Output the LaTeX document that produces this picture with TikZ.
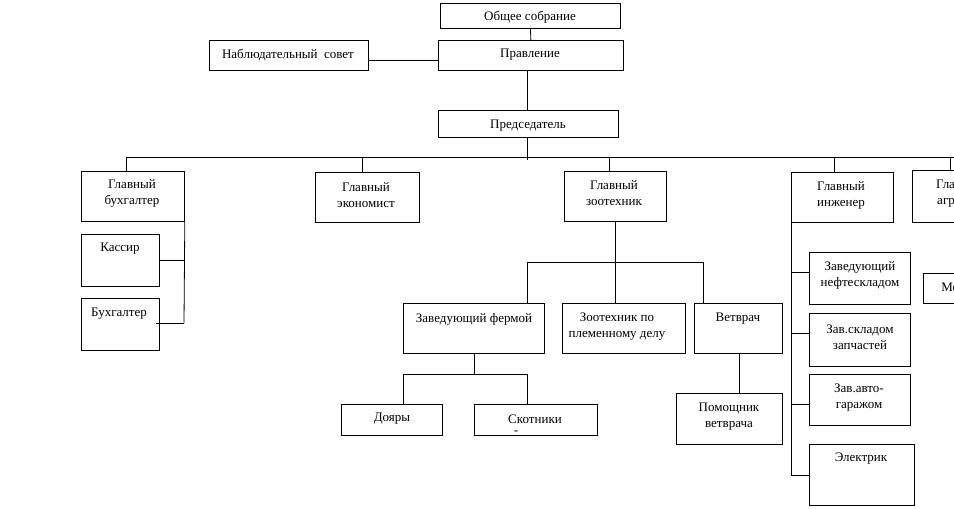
\documentclass[tikz,border=0pt]{standalone}
\usepackage{fontspec}
\setmainfont{Liberation Serif}
\begin{document}
\begin{tikzpicture}[x=1pt,y=-1pt,
  bx/.style={draw,line width=0.8pt,inner sep=0},
  tx/.style={font=\fontsize{13}{16}\selectfont,align=center,inner sep=0},
  ln/.style={line width=0.8pt}]
\useasboundingbox (0,0) rectangle (954,509);
\clip (0,0) rectangle (954,509);
\newcommand\bxx[5]{\node[bx,anchor=north west,minimum width=#4-#2,minimum height=#5-#3] (#1) at (#2,#3) {};}
\bxx{os}{440}{3}{620}{28}
\bxx{pr}{438}{40}{623}{70}
\bxx{ns}{209}{40}{368}{70}
\bxx{pd}{438}{110}{618}{137}
\bxx{gb}{81}{171}{184}{221}
\bxx{ge}{315}{172}{419}{222}
\bxx{gz}{564}{171}{666}{221}
\bxx{gi}{791}{172}{893}{222}
\bxx{ga}{912}{170}{975}{222}
\bxx{ka}{81}{234}{159}{286}
\bxx{bu}{81}{298}{159}{350}
\bxx{zf}{403}{303}{544}{353}
\bxx{zp}{562}{303}{685}{353}
\bxx{vv}{694}{303}{782}{353}
\bxx{do}{341}{404}{442}{435}
\bxx{sk}{474}{404}{597}{435}
\bxx{pv}{676}{393}{782}{444}
\bxx{zn}{809}{252}{910}{304}
\bxx{zs}{809}{313}{910}{366}
\bxx{zg}{809}{374}{910}{425}
\bxx{el}{809}{444}{914}{505}
\bxx{me}{923}{273}{975}{303}
% texts
\node[tx] (t1) at (530,17) {Общее собрание};
\node[tx] (t2) at (530,55) {Правление};
\node[tx] (t3) at (288,55) {Наблюдательный\ \ совет};
\node[tx] (t4) at (528,126) {Председатель};
\node[tx] (t5) at (132,193) {Главный\\бухгалтер};
\node[tx] (t6) at (366,195) {Главный\\экономист};
\node[tx] (t7) at (614,193) {Главный\\зоотехник};
\node[tx] (t8) at (841,195) {Главный\\инженер};
\node[tx] (t9) at (960,193) {Главный\\агроном};
\node[tx] (t10) at (120,249) {Кассир};
\node[tx] (t11) at (119,314) {Бухгалтер};
\node[tx] (t12) at (860,275) {Заведующий\\нефтескладом};
\node[tx] (t13) at (860,337) {Зав.складом\\запчастей};
\node[tx] (t14) at (859,398) {Зав.авто-\\гаражом};
\node[tx] (t15) at (861,459) {Электрик};
\node[tx] (t16) at (474,319) {Заведующий фермой};
\node[tx] (t17) at (617,327) {Зоотехник по\\племенному делу};
\node[tx] (t18) at (738,319) {Ветврач};
\node[tx] (t19) at (392,419) {Дояры};
\node[tx] (t20) at (535,419) {Скотники};
\node[tx] (t21) at (516,433) {-};
\node[tx] (t22) at (729,417) {Помощник\\ветврача};
\node[tx] (t23) at (966,287) {Механик};
% connectors
\draw[ln] (os.south) -- (pr.north);
\draw[ln] (ns.east|-0,60) -- (pr.west|-0,60);
\draw[ln] (pr.south -| 527,0) -- (pd.north -| 527,0);
\draw[ln] (pd.south -| 527,0) -- (527,160);
\draw[ln] (126,157) -- (960,157);
\draw[ln] (126,157) -- (gb.north -| 126,0);
\draw[ln] (362,157) -- (ge.north -| 362,0);
\draw[ln] (609,157) -- (gz.north -| 609,0);
\draw[ln] (834,157) -- (gi.north -| 834,0);
\draw[ln] (950,157) -- (ga.north -| 950,0);
\draw[ln] (gb.south east) -- (184,323);
\draw[ln] (ka.east|-0,260) -- (184,260);
\draw[ln] (156,323) -- (184,323);
\draw[ln] (gz.south -| 615,0) -- (615,262);
\draw[ln] (527,262) -- (703,262);
\draw[ln] (527,262) -- (zf.north -| 527,0);
\draw[ln] (615,262) -- (zp.north -| 615,0);
\draw[ln] (703,262) -- (vv.north -| 703,0);
\draw[ln] (zf.south -| 474,0) -- (474,374);
\draw[ln] (403,374) -- (527,374);
\draw[ln] (403,374) -- (do.north -| 403,0);
\draw[ln] (527,374) -- (sk.north -| 527,0);
\draw[ln] (vv.south -| 739,0) -- (pv.north -| 739,0);
\draw[ln] (gi.south west) -- (791,475);
\draw[ln] (791,272) -- (zn.west|-0,272);
\draw[ln] (791,333) -- (zs.west|-0,333);
\draw[ln] (791,404) -- (zg.west|-0,404);
\draw[ln] (791,475) -- (el.west|-0,475);
\end{tikzpicture}
\end{document}
